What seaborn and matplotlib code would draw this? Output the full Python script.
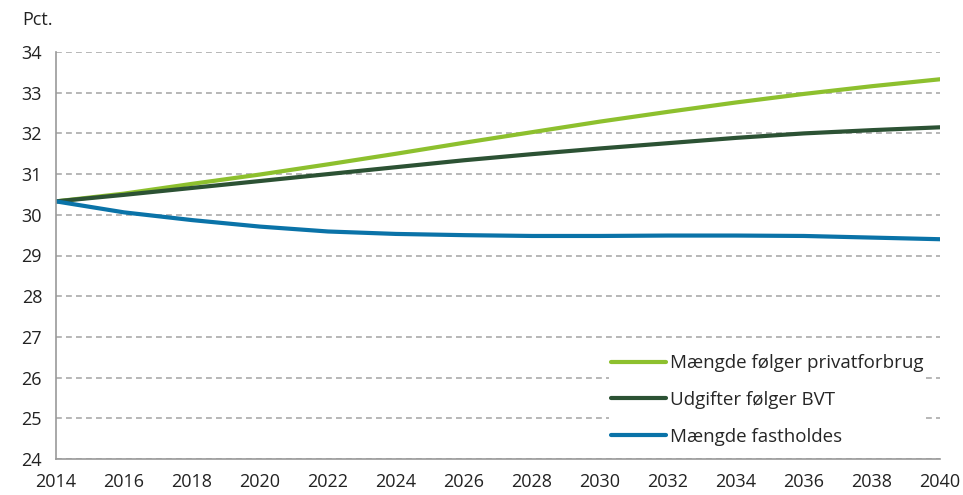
import matplotlib
matplotlib.use("Agg")
import matplotlib.pyplot as plt
import seaborn as sns
import pandas as pd

years = [2014, 2016, 2018, 2020, 2022, 2024, 2026, 2028, 2030, 2032, 2034, 2036, 2038, 2040]
privatforbrug = [30.33, 30.52, 30.76, 30.99, 31.24, 31.50, 31.77, 32.03, 32.29, 32.53, 32.76, 32.97, 33.16, 33.33]
bvt = [30.33, 30.49, 30.66, 30.83, 31.00, 31.17, 31.34, 31.49, 31.63, 31.76, 31.89, 32.00, 32.08, 32.15]
fastholdes = [30.33, 30.06, 29.87, 29.71, 29.59, 29.53, 29.50, 29.48, 29.48, 29.49, 29.49, 29.48, 29.44, 29.40]
labels = ["Mængde følger privatforbrug", "Udgifter følger BVT", "Mængde fastholdes"]
colors = ["#8dc02e", "#2c5234", "#0a73a8"]
yticks = [24, 25, 26, 27, 28, 29, 30, 31, 32, 33, 34]
xticks = list(range(2014, 2041, 2))

df = pd.concat([
    pd.DataFrame({"year": years, "value": privatforbrug, "serie": labels[0]}),
    pd.DataFrame({"year": years, "value": bvt, "serie": labels[1]}),
    pd.DataFrame({"year": years, "value": fastholdes, "serie": labels[2]}),
])

sns.set_style("white")
plt.rcParams["font.family"] = ["Open Sans", "DejaVu Sans"]

fig = plt.figure(figsize=(9.63, 4.95), dpi=100)
ax = fig.add_axes([56 / 963, 1 - 459 / 495, (940 - 56) / 963, (459 - 52) / 495])

sns.lineplot(data=df, x="year", y="value", hue="serie", palette=colors,
             hue_order=labels, linewidth=3, ax=ax, legend=True)

ax.set_xlim(2014, 2040)
ax.set_ylim(24, 34)
ax.set_xticks(xticks)
ax.set_yticks(yticks)
ax.tick_params(axis="both", labelsize=13, colors="#222222")
ax.tick_params(axis="x", length=5, width=1, color="#999999", direction="out", pad=5)
ax.tick_params(axis="y", length=8, width=1.2, color="#aaaaaa", direction="out", pad=2)
for t in ax.yaxis.get_ticklines():
    t.set_linestyle((0, (2.5, 1.5)))
ax.set_xlabel("")
ax.set_ylabel("")
ax.yaxis.grid(True, linestyle=(0, (3.5, 2.5)), color="#aaaaaa", linewidth=1.2)
ax.xaxis.grid(False)
for s in ["top", "right"]:
    ax.spines[s].set_visible(False)
ax.spines["left"].set_color("#999999")
ax.spines["bottom"].set_color("#999999")
ax.spines["left"].set_linewidth(1.2)
ax.spines["bottom"].set_linewidth(1.2)
ax.set_axisbelow(True)

leg = ax.legend(loc="lower right", bbox_to_anchor=(0.9945, 0.005), frameon=True,
                facecolor="white", edgecolor="none", framealpha=1,
                fontsize=13.5, handlelength=2.9, handletextpad=0.25,
                labelspacing=1.0, borderpad=0.1)
for h in leg.get_lines():
    h.set_linewidth(3)

fig.text(22 / 963, 1 - 20 / 495, "Pct.", fontsize=13, color="#222222", va="center")

fig.savefig("out.png", dpi=100)
